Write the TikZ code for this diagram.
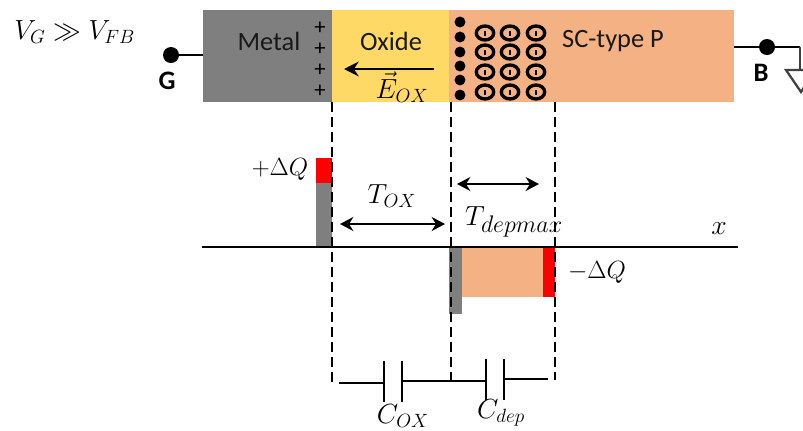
\documentclass[tikz,border=0pt]{standalone}
\usepackage{amsmath,amssymb,graphicx}
\usepackage{fontspec}
\setmainfont{Carlito}
\usetikzlibrary{arrows.meta,calc,shapes.geometric}
\definecolor{metalgrey}{RGB}{127,127,127}
\definecolor{oxideyellow}{RGB}{255,217,102}
\definecolor{scorange}{RGB}{244,177,131}
\definecolor{chargered}{RGB}{255,0,0}
\definecolor{groundgrey}{RGB}{64,64,64}
\tikzset{
  block/.style={draw=none,inner sep=0pt,minimum height=69pt,anchor=north west},
  bar/.style={draw=none,inner sep=0pt,anchor=north west},
  lbl/.style={inner sep=0pt,font=\fontsize{19.8}{22}\selectfont,text=black!90},
  boldlbl/.style={inner sep=0pt,font=\fontsize{20}{22}\selectfont\bfseries},
  mathlbl/.style={inner sep=0pt,font=\fontsize{20}{22}\selectfont},
  terminal/.style={circle,fill=black,inner sep=0pt,minimum size=12pt},
  wire/.style={line width=2.2pt},
  guide/.style={line width=1.7pt,dash pattern=on 7.5pt off 3.75pt},
  dimarrow/.style={line width=1.8pt,{Stealth[length=10pt,width=10.5pt]}-{Stealth[length=10pt,width=10.5pt]}},
  plate/.style={line width=2.1pt},
  hole/.style={circle,fill=black,inner sep=0pt,minimum size=8.2pt},
  ion/.style={ellipse,draw=black,line width=2.5pt,inner sep=0pt,minimum width=13pt,minimum height=10.5pt},
}
\begin{document}
\begin{tikzpicture}[x=0.75pt,y=-0.75pt]
\useasboundingbox (0,0) rectangle (803,430);
\clip (0,0) rectangle (803,430);
% stack
\node[block,fill=metalgrey,minimum width=96.75pt] (metal) at (203,10) {};
\node[block,fill=oxideyellow,minimum width=87.75pt] (oxide) at (332,10) {};
\node[block,fill=scorange,minimum width=213.75pt] (sc) at (449,10) {};
\node[lbl] (metaltxt) at (269,41) {Metal};
\node[lbl] (oxidetxt) at (391,41) {Oxide};
\node[lbl] (sctxt) at (613,41) {SC-type P};
\node[mathlbl,anchor=west] (vg) at (14,32) {$V_G \gg V_{FB}$};
% plus charges
\foreach \y/\n in {28/1,49/2,70/3,91/4}
  \node[inner sep=0pt,font=\fontsize{17}{17}\selectfont] (plus\n) at (320,\y) {+};
% field
\coordinate (efrom) at (434,69);
\coordinate (eto) at (344,69);
\draw[line width=2pt,-{Stealth[length=11pt,width=11pt]}] (efrom) -- (eto);
\node[mathlbl] (eox) at (402,87) {$\vec{E}_{OX}$};
% holes and ions
\foreach \y/\n in {22/1,37/2,52/3,66/4,80/5,95/6}
  \node[hole] (hole\n) at (460,\y) {};
\foreach \x/\i in {485/1,510/2,536/3}
  \foreach \y/\j in {33/1,52/2,72/3,92/4}{
    \node[ion] (ion\i\j) at (\x,\y) {};
    \draw[line width=1.3pt] ($(ion\i\j.center)+(0,-2.5)$) -- ($(ion\i\j.center)+(0,2.5)$);
  }
% terminals
\node[terminal] (G) at (171,55) {};
\node[boldlbl] (Gtxt) at (167,81) {G};
\coordinate (gin) at (203,55);
\draw[wire] (G) -- (gin);
\node[terminal] (B) at (767,47) {};
\node[boldlbl] (Btxt) at (761,73) {B};
\coordinate (bin) at (734,47);
\coordinate (gndtop) at (800,47);
\coordinate (gndbase) at (800,70);
\draw[wire] (bin) -- (B) -- (gndtop);
\draw[wire,groundgrey] (gndtop) -- (gndbase);
\draw[line width=1.7pt,groundgrey] (786,70) -- (815,70) -- (801,92) -- cycle;
% charge plot
\node[bar,fill=metalgrey,minimum width=12pt,minimum height=48pt] (gatebar) at (316,183) {};
\node[bar,fill=chargered,minimum width=12pt,minimum height=18.75pt] (gatered) at (316,158) {};
\node[bar,fill=metalgrey,minimum width=9.75pt,minimum height=50.25pt] (invbar) at (449,247) {};
\node[bar,fill=scorange,minimum width=60.75pt,minimum height=37.5pt] (depbar) at (462,247) {};
\node[bar,fill=chargered,minimum width=9pt,minimum height=37.5pt] (depred) at (543,247) {};
% guides
\coordinate (d1a) at (332,102); \coordinate (d1b) at (332,382);
\coordinate (d2a) at (451,102); \coordinate (d2b) at (451,381);
\coordinate (d3a) at (555,102); \coordinate (d3b) at (555,380);
\draw[guide] (d1a) -- (d1b);
\draw[guide] (d2a) -- (d2b);
\draw[guide] (d3a) -- (d3b);
% axis
\coordinate (axl) at (202,247);
\coordinate (axr) at (738,247);
\draw[line width=2.2pt] (axl) -- (axr);
\node[mathlbl] (xtxt) at (719,229) {$x$};
\node[mathlbl] (pq) at (280,169) {\scalebox{0.9}{$+\Delta Q$}};
\node[mathlbl] (mq) at (597,272) {\scalebox{0.9}{$-\Delta Q$}};
\node[mathlbl] (tox) at (392,196) {$T_{OX}$};
\node[mathlbl] (tdep) at (514,222) {$T_{\scalebox{1.25}{$\scriptstyle depmax$}}$};
\coordinate (t1a) at (340,224); \coordinate (t1b) at (445,224);
\coordinate (t2a) at (457,184); \coordinate (t2b) at (539,184);
\draw[dimarrow] (t1a) -- (t1b);
\draw[dimarrow] (t2a) -- (t2b);
% capacitors
\coordinate (w1) at (339,383);
\coordinate (p1t) at (384,361); \coordinate (p1b) at (384,402);
\coordinate (p2t) at (402,361); \coordinate (p2b) at (402,402);
\coordinate (p3t) at (486,359); \coordinate (p3b) at (486,400);
\coordinate (p4t) at (504,359); \coordinate (p4b) at (504,400);
\coordinate (w2) at (548,379);
\draw[plate] (p1t) -- (p1b);
\draw[plate] (p2t) -- (p2b);
\draw[plate] (p3t) -- (p3b);
\draw[plate] (p4t) -- (p4b);
\draw[wire] (w1) -- (384,383);
\draw[wire] (402,381) -- (486,381);
\draw[wire] (504,379) -- (w2);
\node[mathlbl] (cox) at (403,416) {$C_{OX}$};
\node[mathlbl] (cdep) at (501,413) {$C_{dep}$};
\end{tikzpicture}
\end{document}
